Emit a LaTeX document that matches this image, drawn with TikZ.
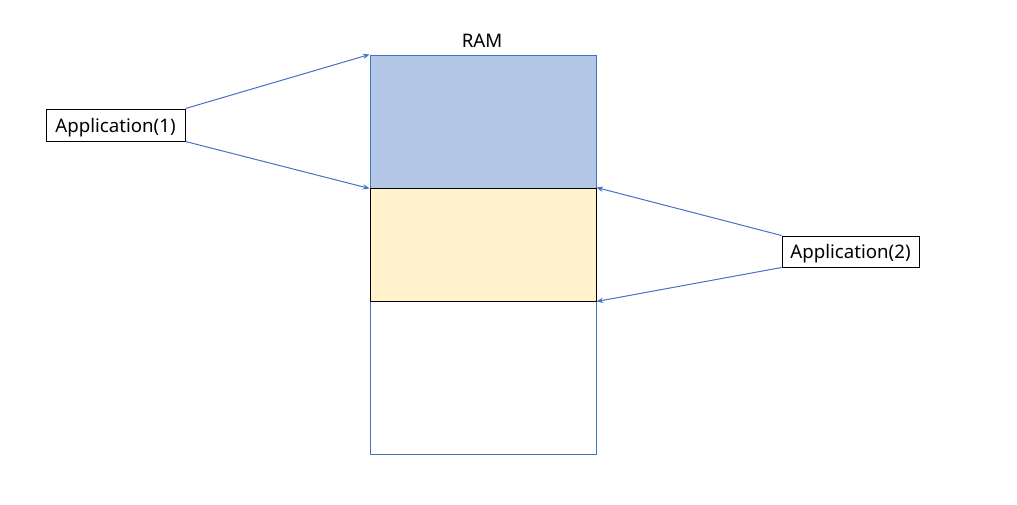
\documentclass[tikz,border=0pt]{standalone}
\usepackage{fontspec}
\setmainfont{Noto Sans}
\usetikzlibrary{arrows.meta}
\definecolor{linkblue}{HTML}{4472C4}
\definecolor{ramblue}{HTML}{B4C7E7}
\definecolor{ramyellow}{HTML}{FFF2CC}
\begin{document}
\begin{tikzpicture}[x=0.75pt,y=-0.75pt,
	appbox/.style={draw=black, line width=0.75pt, inner sep=0pt, text depth=0pt, font=\fontsize{14}{16}\selectfont},
	link/.style={linkblue, line width=0.75pt, -{Stealth[length=5pt,width=4pt]}}]

\useasboundingbox (0,0) rectangle (1017,504);

\node[draw=linkblue, line width=0.75pt, minimum width=169.5pt, minimum height=299.25pt, inner sep=0pt] (ram) at (483,254.5) {};
\node[draw=linkblue, fill=ramblue, line width=0.75pt, minimum width=169.5pt, minimum height=99.75pt, inner sep=0pt] (used1) at (483,121.5) {};
\node[draw=black, fill=ramyellow, line width=0.75pt, minimum width=169.5pt, minimum height=84.75pt, inner sep=0pt] (used2) at (483,244.5) {};
\node[font=\fontsize{14}{16}\selectfont] (ramlabel) at (482,41) {RAM};

\node[appbox, minimum width=104.25pt, minimum height=24pt] (app1) at (115.5,125) {Application(1)};
\node[appbox, minimum width=102.75pt, minimum height=23.25pt] (app2) at (850.5,251.5) {Application(2)};

\draw [link] (app1.north east) -- (used1.north west);
\draw [link] (app1.south east) -- (used1.south west);
\draw [link] (app2.north west) -- (used2.north east);
\draw [link] (app2.south west) -- (used2.south east);

\end{tikzpicture}
\end{document}
